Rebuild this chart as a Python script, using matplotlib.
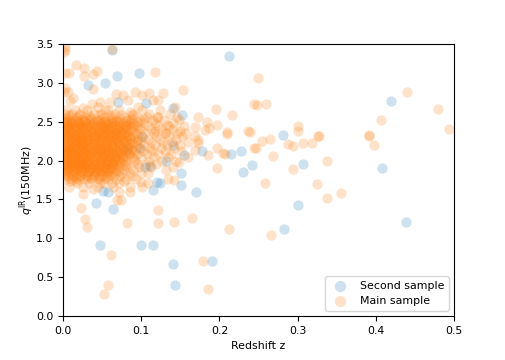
import numpy as np
import matplotlib
matplotlib.use("Agg")
import matplotlib.pyplot as plt

plt.rcParams['font.size'] = 7.9

# second sample (blue)
second_z = [0.063, 0.032, 0.054, 0.069, 0.097, 0.070, 0.106, 0.212, 0.141, 0.152,
            0.281, 0.419, 0.098, 0.111, 0.105, 0.120, 0.115, 0.051, 0.058, 0.042,
            0.064, 0.178, 0.215, 0.228, 0.242, 0.230, 0.151, 0.124, 0.170, 0.151,
            0.155, 0.141, 0.307, 0.301, 0.408, 0.438, 0.047, 0.100, 0.115, 0.141,
            0.143, 0.190, 0.283, 0.082, 0.101, 0.131]
second_q = [3.42, 2.97, 3.00, 3.09, 3.13, 2.75, 2.74, 3.35, 2.68, 2.59,
            2.33, 2.77, 2.16, 1.93, 1.92, 1.72, 1.62, 1.61, 1.60, 1.45,
            1.38, 2.12, 2.09, 2.12, 1.94, 1.85, 1.84, 1.71, 1.60, 1.69,
            2.07, 2.20, 1.96, 1.43, 1.90, 1.21, 0.91, 0.91, 0.91, 0.67,
            0.40, 0.71, 1.12, 2.15, 2.30, 2.00]

# main sample (orange): scattered points outside the dense cloud
main_out_z = [0.003, 0.001, 0.002, 0.063, 0.017, 0.008, 0.027, 0.027, 0.038, 0.043,
              0.118, 0.002, 0.002, 0.001, 0.038, 0.006, 0.013, 0.009, 0.092, 0.068,
              0.077, 0.101, 0.110, 0.115, 0.060, 0.047, 0.037, 0.083, 0.086, 0.096,
              0.026, 0.045, 0.054, 0.120, 0.128, 0.121, 0.153, 0.143, 0.148, 0.121,
              0.133, 0.173, 0.196, 0.216, 0.244, 0.184, 0.197, 0.186, 0.169, 0.209,
              0.237, 0.118, 0.130, 0.150, 0.157, 0.249, 0.248, 0.259, 0.300, 0.300,
              0.326, 0.239, 0.440, 0.480, 0.407, 0.494, 0.391, 0.254, 0.265, 0.247,
              0.288, 0.294, 0.307, 0.318, 0.327, 0.268, 0.294, 0.338, 0.258, 0.325,
              0.338, 0.356, 0.391, 0.398, 0.210, 0.197, 0.204, 0.207, 0.185, 0.197,
              0.173, 0.169, 0.173, 0.169, 0.182, 0.244, 0.121, 0.121, 0.142, 0.165,
              0.134, 0.142, 0.141, 0.148, 0.160, 0.028, 0.030, 0.082, 0.061, 0.057,
              0.052, 0.212, 0.179, 0.185, 0.266, 0.009, 0.017, 0.026, 0.038, 0.026,
              0.047, 0.072, 0.085, 0.086, 0.074, 0.069, 0.109, 0.099, 0.078, 0.023,
              0.108]
main_out_q = [3.46, 3.40, 3.42, 3.43, 3.23, 3.13, 3.19, 3.09, 3.11, 3.15,
              3.14, 3.13, 2.93, 2.88, 2.92, 2.88, 2.80, 2.77, 2.88, 2.86,
              2.84, 2.84, 2.87, 2.78, 2.75, 2.75, 2.73, 2.78, 2.63, 2.69,
              2.68, 2.69, 2.65, 2.56, 2.87, 2.78, 2.91, 2.69, 2.52, 2.56,
              2.46, 2.56, 2.66, 2.59, 2.73, 2.50, 2.46, 2.42, 2.43, 2.37,
              2.38, 2.38, 2.36, 2.38, 2.36, 3.06, 2.72, 2.73, 2.45, 2.38,
              2.32, 2.37, 2.88, 2.66, 2.52, 2.41, 2.33, 2.25, 2.28, 2.16,
              2.21, 2.19, 2.22, 2.23, 2.31, 2.06, 1.89, 1.99, 1.71, 1.70,
              1.52, 1.58, 2.31, 2.20, 2.34, 2.16, 2.10, 2.08, 2.07, 1.90,
              2.22, 2.14, 2.27, 2.31, 2.39, 2.16, 1.37, 1.20, 1.21, 1.26,
              1.76, 1.75, 1.92, 1.98, 2.05, 1.25, 1.15, 1.20, 0.79, 0.40,
              0.29, 1.12, 0.71, 0.35, 1.04, 1.74, 1.74, 1.66, 1.63, 1.57,
              1.71, 1.60, 1.66, 1.59, 1.49, 1.49, 1.71, 1.72, 1.74, 1.39,
              1.84]

# main sample: the cloud, one row of redshifts per q level
cloud_q = [2.65, 2.60, 2.56, 2.52, 2.48, 2.44, 2.40, 2.36, 2.32, 2.28, 2.24, 2.20,
           2.16, 2.12, 2.08, 2.04, 2.00, 1.96, 1.92, 1.88, 1.84, 1.80, 1.76, 1.71, 1.66]
cloud_z = [
    [0.004, 0.015, 0.031, 0.058, 0.072, 0.101, 0.124],
    [0.002, 0.011, 0.022, 0.040, 0.049, 0.066, 0.088, 0.110, 0.137],
    [0.006, 0.018, 0.028, 0.035, 0.052, 0.063, 0.079, 0.094, 0.107, 0.146],
    [0.001, 0.009, 0.016, 0.025, 0.033, 0.044, 0.057, 0.069, 0.083, 0.098, 0.115, 0.129],
    [0.003, 0.012, 0.020, 0.029, 0.038, 0.047, 0.055, 0.064, 0.076, 0.089, 0.103, 0.118, 0.141],
    [0.005, 0.014, 0.023, 0.031, 0.042, 0.050, 0.061, 0.071, 0.081, 0.094, 0.108, 0.122, 0.135, 0.155],
    [0.002, 0.008, 0.017, 0.026, 0.035, 0.045, 0.053, 0.060, 0.068, 0.077, 0.086, 0.099, 0.112, 0.127, 0.140],
    [0.004, 0.011, 0.019, 0.028, 0.037, 0.043, 0.051, 0.058, 0.066, 0.074, 0.083, 0.092, 0.105, 0.116, 0.131, 0.146],
    [0.001, 0.007, 0.015, 0.022, 0.030, 0.039, 0.048, 0.056, 0.063, 0.071, 0.080, 0.090, 0.101, 0.119, 0.136, 0.152],
    [0.003, 0.010, 0.018, 0.025, 0.033, 0.041, 0.049, 0.059, 0.067, 0.075, 0.085, 0.096, 0.109, 0.124, 0.144],
    [0.006, 0.013, 0.021, 0.029, 0.036, 0.044, 0.053, 0.062, 0.070, 0.078, 0.088, 0.100, 0.113, 0.128, 0.139, 0.160],
    [0.002, 0.009, 0.016, 0.024, 0.032, 0.040, 0.047, 0.055, 0.064, 0.073, 0.082, 0.093, 0.104, 0.117, 0.133, 0.149],
    [0.005, 0.012, 0.020, 0.027, 0.035, 0.043, 0.051, 0.058, 0.066, 0.076, 0.087, 0.097, 0.111, 0.125, 0.142],
    [0.001, 0.008, 0.015, 0.023, 0.030, 0.038, 0.046, 0.054, 0.061, 0.069, 0.079, 0.090, 0.102, 0.114, 0.130, 0.151],
    [0.004, 0.011, 0.018, 0.026, 0.034, 0.042, 0.050, 0.057, 0.065, 0.074, 0.084, 0.095, 0.107, 0.121, 0.138],
    [0.002, 0.007, 0.014, 0.022, 0.029, 0.037, 0.045, 0.052, 0.060, 0.068, 0.077, 0.088, 0.099, 0.116, 0.134],
    [0.005, 0.012, 0.019, 0.027, 0.033, 0.041, 0.049, 0.056, 0.064, 0.072, 0.081, 0.092, 0.110, 0.126, 0.145],
    [0.003, 0.010, 0.017, 0.024, 0.031, 0.039, 0.047, 0.055, 0.062, 0.070, 0.080, 0.094, 0.106, 0.119],
    [0.001, 0.008, 0.015, 0.021, 0.028, 0.036, 0.044, 0.053, 0.061, 0.071, 0.083, 0.097, 0.112],
    [0.004, 0.012, 0.019, 0.026, 0.034, 0.042, 0.050, 0.059, 0.068, 0.078, 0.090, 0.131],
    [0.002, 0.009, 0.017, 0.025, 0.032, 0.040, 0.048, 0.057, 0.066, 0.075, 0.086, 0.100],
    [0.006, 0.014, 0.022, 0.030, 0.039, 0.047, 0.055, 0.064, 0.073, 0.088],
    [0.003, 0.011, 0.020, 0.029, 0.037, 0.046, 0.058, 0.067, 0.081, 0.093],
    [0.018, 0.033, 0.052, 0.062, 0.072],
    [0.008, 0.045, 0.064, 0.101],
]

# main sample: the saturated core at low redshift
core_q = [2.58, 2.54, 2.50, 2.46, 2.42, 2.38, 2.34, 2.30, 2.26, 2.22, 2.18,
          2.14, 2.10, 2.06, 2.02, 1.98, 1.94, 1.90, 1.86, 1.82, 1.78]
core_z = [
    [0.007, 0.020, 0.033, 0.046, 0.060, 0.074, 0.090],
    [0.004, 0.013, 0.024, 0.036, 0.049, 0.061, 0.073, 0.087, 0.104],
    [0.002, 0.010, 0.019, 0.028, 0.040, 0.051, 0.062, 0.072, 0.085, 0.096],
    [0.006, 0.015, 0.025, 0.034, 0.045, 0.056, 0.066, 0.079, 0.091],
    [0.003, 0.011, 0.021, 0.030, 0.039, 0.048, 0.058, 0.069, 0.080, 0.097],
    [0.001, 0.009, 0.018, 0.027, 0.036, 0.046, 0.055, 0.064, 0.073, 0.089],
    [0.005, 0.014, 0.023, 0.032, 0.041, 0.050, 0.060, 0.069, 0.078, 0.095],
    [0.002, 0.011, 0.020, 0.029, 0.038, 0.046, 0.054, 0.065, 0.074, 0.086],
    [0.007, 0.016, 0.024, 0.033, 0.042, 0.051, 0.060, 0.070, 0.082, 0.094],
    [0.003, 0.012, 0.020, 0.028, 0.037, 0.046, 0.056, 0.066, 0.076, 0.089],
    [0.001, 0.009, 0.018, 0.026, 0.034, 0.043, 0.052, 0.062, 0.071, 0.084],
    [0.005, 0.013, 0.022, 0.031, 0.040, 0.049, 0.058, 0.067, 0.078, 0.092],
    [0.002, 0.010, 0.019, 0.028, 0.036, 0.045, 0.054, 0.063, 0.073, 0.086],
    [0.006, 0.015, 0.024, 0.032, 0.041, 0.050, 0.059, 0.069, 0.080],
    [0.003, 0.011, 0.020, 0.029, 0.038, 0.047, 0.056, 0.066, 0.076, 0.091],
    [0.001, 0.008, 0.017, 0.026, 0.035, 0.044, 0.053, 0.063, 0.074],
    [0.005, 0.013, 0.022, 0.031, 0.040, 0.050, 0.059, 0.068, 0.079],
    [0.002, 0.010, 0.019, 0.028, 0.037, 0.046, 0.055, 0.065],
    [0.006, 0.015, 0.024, 0.033, 0.043, 0.052, 0.062, 0.072],
    [0.003, 0.011, 0.020, 0.030, 0.041, 0.051, 0.060],
    [0.008, 0.017, 0.027, 0.036, 0.045, 0.054],
]

# main sample: more points in the densest part of the core
inner_q = [2.51, 2.47, 2.43, 2.39, 2.35, 2.31, 2.27, 2.23, 2.19,
           2.15, 2.11, 2.07, 2.03, 1.99, 1.95, 1.91, 1.87]
inner_z = [
    [0.005, 0.017, 0.027, 0.043, 0.054, 0.067, 0.081],
    [0.001, 0.010, 0.022, 0.037, 0.048, 0.059, 0.071, 0.084],
    [0.007, 0.018, 0.026, 0.035, 0.052, 0.063, 0.075, 0.088],
    [0.004, 0.013, 0.024, 0.040, 0.049, 0.058, 0.070, 0.081],
    [0.002, 0.009, 0.021, 0.030, 0.044, 0.053, 0.066, 0.079],
    [0.006, 0.016, 0.025, 0.035, 0.043, 0.059, 0.068, 0.082],
    [0.001, 0.012, 0.021, 0.030, 0.047, 0.056, 0.064, 0.077],
    [0.008, 0.017, 0.025, 0.040, 0.050, 0.061, 0.072, 0.085],
    [0.004, 0.014, 0.023, 0.031, 0.039, 0.055, 0.066, 0.080],
    [0.002, 0.009, 0.017, 0.028, 0.045, 0.053, 0.063, 0.075],
    [0.006, 0.014, 0.025, 0.033, 0.042, 0.058, 0.070, 0.083],
    [0.003, 0.012, 0.021, 0.030, 0.046, 0.055, 0.065, 0.077],
    [0.001, 0.009, 0.017, 0.026, 0.035, 0.051, 0.061, 0.071],
    [0.005, 0.014, 0.022, 0.032, 0.041, 0.049, 0.058, 0.068],
    [0.002, 0.010, 0.019, 0.027, 0.036, 0.045, 0.055, 0.064],
    [0.006, 0.015, 0.024, 0.033, 0.042, 0.052, 0.060],
    [0.003, 0.012, 0.021, 0.030, 0.039, 0.047, 0.056],
]

# put the main sample together
main_z = list(main_out_z)
main_q = list(main_out_q)
for rows_q, rows_z in [(cloud_q, cloud_z), (core_q, core_z), (inner_q, inner_z)]:
    for q, zs in zip(rows_q, rows_z):
        main_z += zs
        main_q += [q] * len(zs)

fig = plt.figure(figsize=(5.05, 3.6), dpi=100)
ax = fig.add_axes([0.125, 0.122, 0.774, 0.756])

ax.scatter(second_z, second_q, s=55, color='tab:blue', alpha=0.22,
           linewidths=0, label='Second sample')
ax.scatter(main_z, main_q, s=55, color='tab:orange', alpha=0.22,
           linewidths=0, label='Main sample')

ax.set_xlim(0, 0.5)
ax.set_ylim(0, 3.5)
ax.set_xlabel('Redshift z')
ax.set_ylabel(r'$q^{\rm IR}$(150MHz)', labelpad=0)
ax.legend(loc='lower right', markerscale=1.1)

plt.savefig('out.png', dpi=100)
